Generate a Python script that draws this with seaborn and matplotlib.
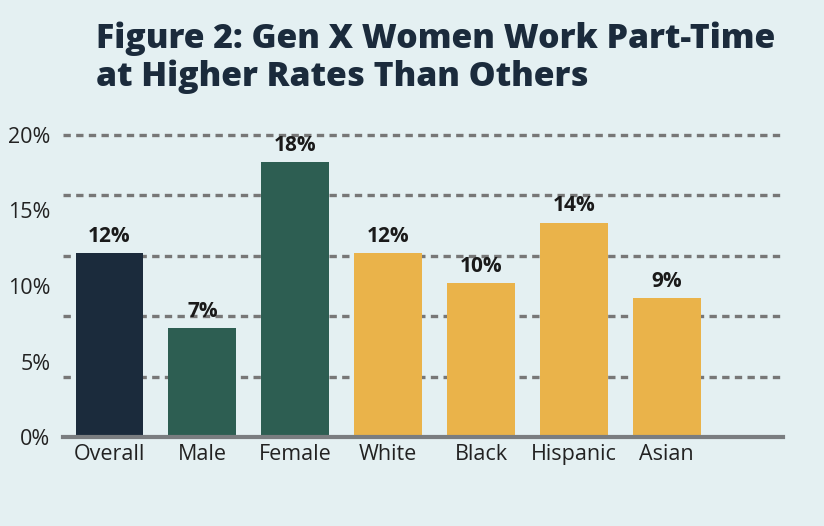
import matplotlib
matplotlib.use("Agg")
import matplotlib.pyplot as plt
import seaborn as sns
import pandas as pd
from matplotlib.ticker import MultipleLocator, FuncFormatter

groups = ["Overall", "Male", "Female", "White", "Black", "Hispanic", "Asian"]
part_time = [12.2, 7.2, 18.2, 12.2, 10.2, 14.2, 9.2]
labels = ["12%", "7%", "18%", "12%", "10%", "14%", "9%"]
bar_colors = ["#1b2b3c", "#2d5e52", "#2d5e52", "#eab34a", "#eab34a", "#eab34a", "#eab34a"]

bg = "#e4f0f2"
sns.set_theme(style="white")
plt.rcParams["font.family"] = ["Open Sans", "DejaVu Sans"]

df = pd.DataFrame({"group": groups, "rate": part_time})

fig = plt.figure(figsize=(8.24, 5.26), dpi=100, facecolor=bg)
ax = fig.add_axes([0.0765, 0.169, 0.8735, 0.589])
ax.set_facecolor(bg)

sns.barplot(data=df, x="group", y="rate", hue="group", palette=bar_colors,
            legend=False, width=0.73, saturation=1, linewidth=0, ax=ax, zorder=3)

# dashed guides sit on a 4% grid, ticks on 5%
ax.yaxis.set_major_locator(MultipleLocator(5))
ax.yaxis.set_minor_locator(MultipleLocator(4))
ax.yaxis.remove_overlapping_locs = False
ax.yaxis.grid(True, which="minor", linestyle=(0, (2.2, 1.6)), color="#777777",
              linewidth=2.4, zorder=1)
ax.yaxis.grid(False, which="major")
ax.yaxis.set_major_formatter(FuncFormatter(lambda v, p: f"{v:.0f}%"))
ax.set_ylim(0, 20.5)
ax.set_xlim(-0.5, 7.25)

for i, txt in enumerate(labels):
    ax.text(i, part_time[i] + 0.4, txt, ha="center", va="bottom",
            fontsize=15, fontweight="bold", color="#1a1a1a", zorder=4)

sns.despine(ax=ax, left=True, top=True, right=True)
ax.spines["bottom"].set_color("#7a7d80")
ax.spines["bottom"].set_linewidth(3)
ax.spines["bottom"].set_zorder(5)
ax.tick_params(axis="both", which="both", length=0)
ax.tick_params(axis="x", labelsize=15.5, pad=5, colors="#222222")
ax.tick_params(axis="y", labelsize=15.5, pad=9, colors="#222222")
ax.set_xlabel("")
ax.set_ylabel("")

fig.text(0.117, 0.96, "Figure 2: Gen X Women Work Part-Time\nat Higher Rates Than Others",
         ha="left", va="top", fontsize=24.3, fontweight="heavy", color="#1b2b3c",
         linespacing=1.14)

fig.savefig("out.png", dpi=100, facecolor=bg)
